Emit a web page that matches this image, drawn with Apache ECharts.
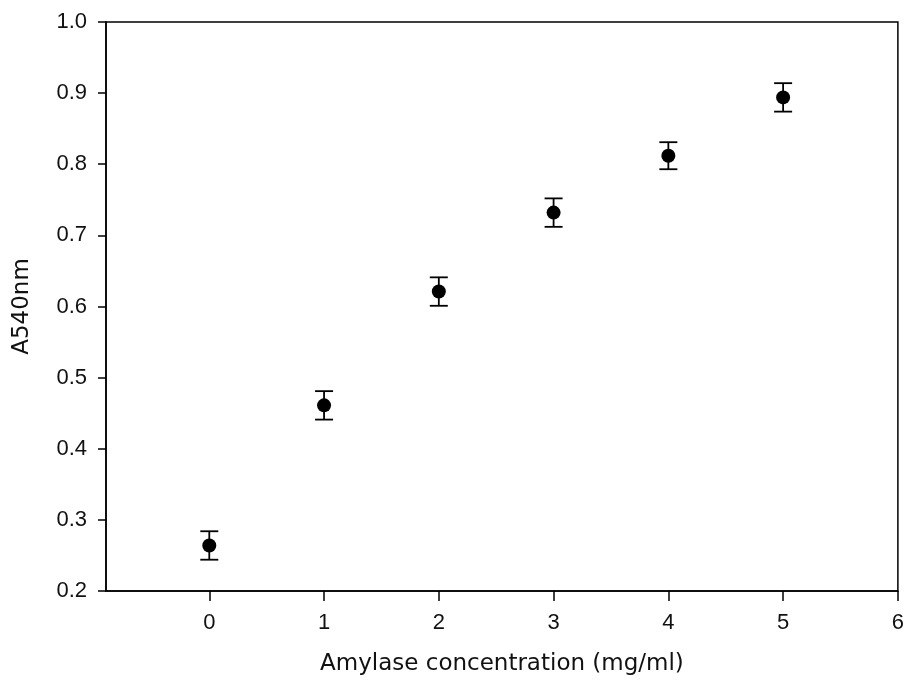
<!DOCTYPE html>
<html>
<head>
<meta charset="utf-8">
<script src="https://cdn.jsdelivr.net/npm/echarts@6/dist/echarts.min.js"></script>
<style>html,body{margin:0;padding:0;background:#fff;}#c{width:907px;height:686px;}</style>
</head>
<body>
<div id="c"></div>
<script>
const concentrations = [0, 1, 2, 3, 4, 5];
const absorbance = [0.264, 0.461, 0.621, 0.732, 0.812, 0.894];
const errors = [0.020, 0.020, 0.020, 0.020, 0.019, 0.020];
const xTicks = [0, 1, 2, 3, 4, 5, 6];
const xTitle = 'Amylase concentration (mg/ml)';
const yTitle = 'A540nm';

const tickFont = '"Liberation Sans Narrow", "Liberation Sans", Arial, sans-serif';
const titleFont = '"DejaVu Sans", sans-serif';
const chart = echarts.init(document.getElementById('c'), null, {renderer: 'canvas'});

const pts = concentrations.map((x, i) => [x, absorbance[i]]);
const errData = concentrations.map((x, i) => [x, absorbance[i] - errors[i], absorbance[i] + errors[i]]);

chart.setOption({
  animation: false,
  backgroundColor: '#fff',
  grid: {left: 106, top: 22, right: 8, bottom: 95, show: true, borderColor: '#000', borderWidth: 1.5},
  xAxis: {
    type: 'value', min: -0.9, max: 6,
    name: xTitle, nameLocation: 'middle', nameGap: 62,
    nameTextStyle: {fontFamily: titleFont, fontSize: 23, color: '#111'},
    axisLine: {show: true, onZero: false, lineStyle: {color: '#000', width: 1.5}},
    axisTick: {show: true, length: 10, customValues: xTicks, lineStyle: {color: '#000', width: 1.5}},
    axisLabel: {customValues: xTicks, margin: 21, fontFamily: tickFont, fontSize: 22, color: '#111'},
    splitLine: {show: false}
  },
  yAxis: {
    type: 'value', min: 0.2, max: 1.0, interval: 0.1,
    name: yTitle, nameLocation: 'middle', nameGap: 72,
    nameTextStyle: {fontFamily: titleFont, fontSize: 23, color: '#111'},
    axisLine: {show: true, onZero: false, lineStyle: {color: '#000', width: 1.5}},
    axisTick: {show: true, length: 8, lineStyle: {color: '#000', width: 1.5}},
    axisLabel: {margin: 19, fontFamily: tickFont, fontSize: 22, color: '#111', formatter: v => v.toFixed(1)},
    splitLine: {show: false}
  },
  series: [
    {
      type: 'custom',
      data: errData,
      z: 3,
      renderItem: function (params, api) {
        const x = api.value(0);
        const lo = api.coord([x, api.value(1)]);
        const hi = api.coord([x, api.value(2)]);
        const hw = 9;
        const style = {stroke: '#000', lineWidth: 1.8};
        return {
          type: 'group',
          children: [
            {type: 'line', shape: {x1: lo[0], y1: lo[1], x2: hi[0], y2: hi[1]}, style: style},
            {type: 'line', shape: {x1: lo[0] - hw, y1: lo[1], x2: lo[0] + hw, y2: lo[1]}, style: style},
            {type: 'line', shape: {x1: hi[0] - hw, y1: hi[1], x2: hi[0] + hw, y2: hi[1]}, style: style}
          ]
        };
      }
    },
    {
      type: 'scatter',
      data: pts,
      symbol: 'circle',
      symbolSize: 14,
      z: 4,
      itemStyle: {color: '#000', opacity: 1}
    }
  ]
});
</script>
</body>
</html>
